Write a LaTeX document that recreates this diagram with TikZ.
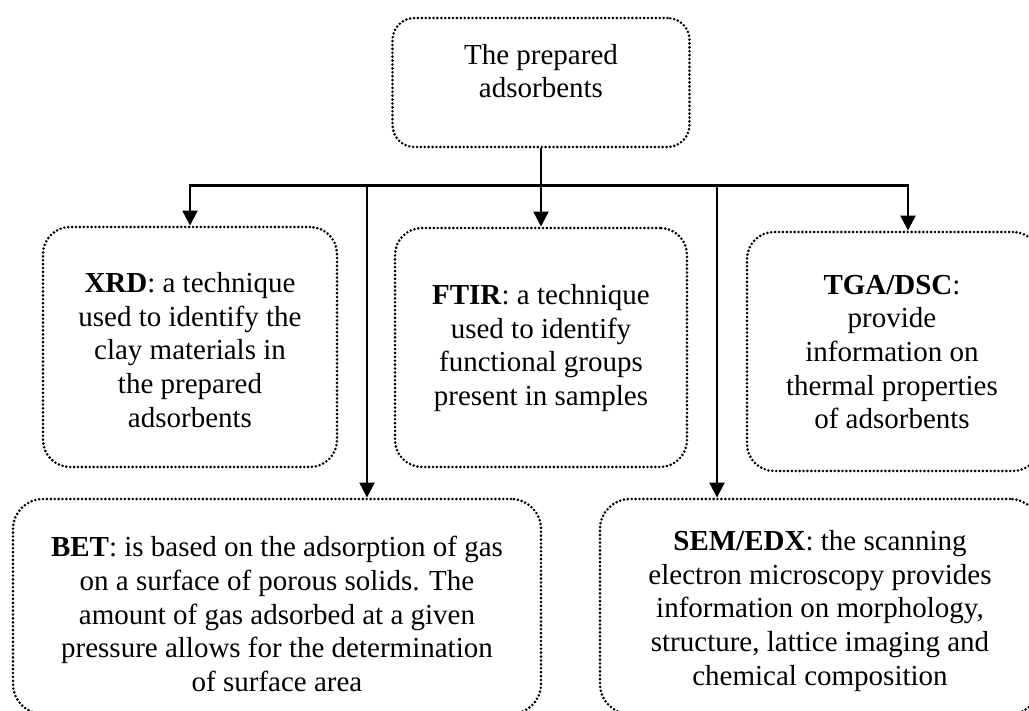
\documentclass[tikz,border=0pt]{standalone}
\usepackage{fontspec}
\setmainfont{Liberation Serif}
\usetikzlibrary{arrows.meta}
\begin{document}
\begin{tikzpicture}[x=1pt,y=-1pt,
  dotbox/.style={draw=black, rectangle, rounded corners=27pt, dash pattern=on 0pt off 3.9pt, line cap=round, line width=2.9pt, inner sep=0pt},
  txt/.style={align=center, font=\fontsize{29}{33.6}\selectfont, inner sep=0pt},
  arr/.style={line width=2.3pt, -{Triangle[width=15pt,length=15pt]}}]
\useasboundingbox (0,0) rectangle (1029,711);
\clip (0,0) rectangle (1029,711);
% boxes
\node[dotbox, rounded corners=22pt, minimum width=297pt, minimum height=129pt] (top) at (541,82.5) {};
\node[dotbox, minimum width=294pt, minimum height=240pt] (xrd) at (190,347) {};
\node[dotbox, minimum width=292pt, minimum height=239pt] (ftir) at (541,347.5) {};
\node[dotbox, minimum width=293pt, minimum height=239pt] (tga) at (893.5,351.5) {};
\node[dotbox, rounded corners=30pt, minimum width=528pt, minimum height=215pt] (bet) at (277,606.5) {};
\node[dotbox, rounded corners=30pt, minimum width=440pt, minimum height=215pt] (sem) at (820,606.5) {};
% texts
\node[txt] (ttop) at (541,71) {The prepared\\adsorbents};
\node[txt] (txrd) at (190,350) {\textbf{XRD}: a technique\\used to identify the\\clay materials in\\the prepared\\adsorbents};
\node[txt] (tftir) at (541,348) {\textbf{FTIR}: a technique\\used to identify\\functional groups\\present in samples};
\node[txt] (ttga) at (892,352) {\textbf{TGA/DSC}:\\provide\\information on\\thermal properties\\of adsorbents};
\node[txt] (tbet) at (277,614) {\textbf{BET}: is based on the adsorption of gas\\on a surface of porous solids. The\\amount of gas adsorbed at a given\\pressure allows for the determination\\of surface area};
\node[txt] (tsem) at (820,611) {\textbf{SEM/EDX}: the scanning\\electron microscopy provides\\information on morphology,\\structure, lattice imaging and\\chemical composition};
% connectors
\coordinate (bar) at ([yshift=-37pt]top.south);
\coordinate (betin) at ([xshift=90pt]bet.north);
\coordinate (semin) at ([xshift=-103pt]sem.north);
\coordinate (tgain) at ([xshift=14.5pt]tga.north);
\draw[arr] (top.south) -- (ftir.north);
\draw[arr] (bar) -| (xrd.north);
\draw[arr] (bar) -| (tgain);
\draw[arr] (betin |- bar) -- (betin);
\draw[arr] (semin |- bar) -- (semin);
\end{tikzpicture}
\end{document}
